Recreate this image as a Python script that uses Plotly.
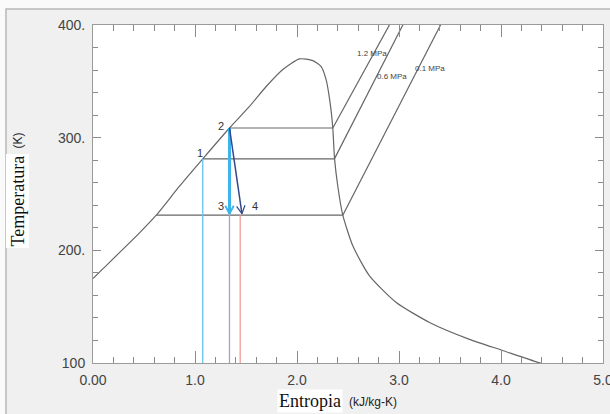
import math
import plotly.graph_objects as go

# ---------------- data ----------------
dome_s = [0.0, 0.096, 0.456, 0.62, 0.848, 1.076, 1.338, 1.534, 1.698, 1.861, 2.025,
          2.155, 2.237, 2.286, 2.325, 2.351, 2.368, 2.40, 2.449, 2.547, 2.711, 2.973,
          3.299, 3.691, 4.002, 4.36, 4.45]
dome_T = [175.0, 183.5, 215.5, 231.2, 256.9, 281.2, 308.6, 327.7, 345.4, 360.5, 369.9,
          368.4, 363.1, 351.3, 330.7, 308.6, 281.4, 256.9, 231.2, 204.0, 177.3, 153.7,
          136.0, 121.0, 111.5, 100.6, 98.5]

iso_12_s = [2.351, 2.907, 2.93]
iso_12_T = [308.6, 400.0, 404.0]
iso_06_s = [2.368, 3.037, 3.06]
iso_06_T = [281.4, 400.0, 404.0]
iso_01_s = [2.449, 3.404, 3.43]
iso_01_T = [231.2, 400.0, 404.0]
iso_labels = ["1.2 MPa", "0.6 MPa", "0.1 MPa"]
iso_label_s = [2.732, 2.928, 3.304]
iso_label_T = [374.9, 354.7, 361.6]

# horizontal (constant temperature) lines: [s_start, s_end], T
hl_high_s = [1.338, 2.351]; T_high = 308.6
hl_mid_s = [1.076, 2.368];  T_mid = 281.2
hl_low_s = [0.62, 2.449];   T_low = 231.2

# cycle states
pt_names = ["1", "2", "3", "4"]
pt_s = [1.076, 1.338, 1.338, 1.46]
pt_T = [281.2, 308.6, 232.5, 232.5]
pt_label_s = [1.05, 1.25, 1.25, 1.585]
pt_label_T = [286.5, 310.8, 239.2, 239.2]

# vertical drop lines: s, top T
vl_s = [1.076, 1.338, 1.443]
vl_top = [281.2, 231.2, 231.2]
vl_colors = ["#62c6ee", "#a99fcc", "#f29a9a"]

x_tickvals = [0, 1, 2, 3, 4, 5]
x_ticktext = ["0.00", "1.0", "2.0", "3.0", "4.0", "5.0"]
y_tickvals = [100, 200, 300, 400]
y_ticktext = ["100", "200.", "300.", "400."]

# ---------------- figure ----------------
W, H = 610, 414
ML, MR, MT, MB = 93, 7, 25, 51
PW, PH = W - ML - MR, H - MT - MB
XR, YR = (0, 5), (100, 400)
kx = PW / (XR[1] - XR[0])
ky = PH / (YR[1] - YR[0])

LINE = "#666666"
fig = go.Figure()

def line(xs, ys, color=LINE, width=1.2, shape="linear", smooth=None):
    d = dict(color=color, width=width, shape=shape)
    if smooth is not None:
        d["smoothing"] = smooth
    fig.add_trace(go.Scatter(x=xs, y=ys, mode="lines", line=d,
                             hoverinfo="skip", showlegend=False, cliponaxis=True))

# dome
line(dome_s, dome_T, shape="spline", smooth=0.6)
# isobars
line(iso_12_s, iso_12_T)
line(iso_06_s, iso_06_T)
line(iso_01_s, iso_01_T)
# horizontal lines
line(hl_high_s, [T_high, T_high])
line(hl_mid_s, [T_mid, T_mid])
line(hl_low_s, [T_low, T_low])
# vertical lines
for s, top, c in zip(vl_s, vl_top, vl_colors):
    line([s, s], [top, YR[0]], color=c, width=1.3)

# arrows with open V heads
def arrow(s0, t0, s1, t1, color, width, L=9, ang=28):
    line([s0, s1], [t0, t1], color=color, width=width)
    dx, dy = (s1 - s0) * kx, (t1 - t0) * ky
    n = math.hypot(dx, dy)
    ux, uy = dx / n, dy / n
    xs, ys = [], []
    for sgn in (1, -1):
        a = math.radians(ang) * sgn
        rx = ux * math.cos(a) - uy * math.sin(a)
        ry = ux * math.sin(a) + uy * math.cos(a)
        xs.append(s1 - L * rx / kx)
        ys.append(t1 - L * ry / ky)
    line([xs[0], s1, xs[1]], [ys[0], t1, ys[1]], color=color, width=max(1.2, width * 0.6))

arrow(pt_s[1], pt_T[1], pt_s[2], pt_T[2], "#3db4ec", 3)
arrow(pt_s[1], pt_T[1], pt_s[3], pt_T[3], "#34488c", 1.5)

annotations = []
for name, s, t in zip(pt_names, pt_label_s, pt_label_T):
    annotations.append(dict(x=s, y=t, text=name, showarrow=False, xref="x", yref="y",
                            xanchor="center", yanchor="middle",
                            font=dict(family="Arial", size=11, color="#333333")))
for name, s, t in zip(iso_labels, iso_label_s, iso_label_T):
    annotations.append(dict(x=s, y=t, text=name, showarrow=False, xref="x", yref="y",
                            xanchor="center", yanchor="middle",
                            font=dict(family="Arial", size=8, color="#444444")))

def px2paper(px, py):
    return (px - ML) / PW, (H - MB - py) / PH

# axis titles
x, y = px2paper(309.5, 401)
annotations.append(dict(x=x, y=y, xref="paper", yref="paper", text="Entropia", showarrow=False,
                        xanchor="center", yanchor="middle", bgcolor="white", borderpad=1,
                        font=dict(family="Liberation Serif, Times New Roman, serif", size=18, color="#111111")))
x, y = px2paper(373, 402)
annotations.append(dict(x=x, y=y, xref="paper", yref="paper", text="(kJ/kg-K)", showarrow=False,
                        xanchor="center", yanchor="middle",
                        font=dict(family="Arial", size=12, color="#222222")))
x, y = px2paper(17.5, 201)
annotations.append(dict(x=x, y=y, xref="paper", yref="paper", text="Temperatura", showarrow=False,
                        xanchor="center", yanchor="middle",
                        textangle=-90, bgcolor="white", borderpad=1,
                        font=dict(family="Liberation Serif, Times New Roman, serif", size=18, color="#111111")))
x, y = px2paper(17.5, 141)
annotations.append(dict(x=x, y=y, xref="paper", yref="paper", text="(K)", showarrow=False,
                        xanchor="center", yanchor="middle",
                        textangle=-90,
                        font=dict(family="Arial", size=12, color="#222222")))

# background frame
fx0, fy1 = px2paper(6, 9)
fx1, fy0 = px2paper(W + 5, H + 5)
shapes = [
    dict(type="rect", xref="paper", yref="paper", x0=fx0, x1=fx1, y0=fy0, y1=fy1,
         fillcolor="#f0f0f0", line=dict(color="#b8b8b8", width=1.5), layer="below"),
    dict(type="rect", xref="paper", yref="paper", x0=0, x1=1, y0=0, y1=1,
         fillcolor="white", line=dict(width=0), layer="below"),
]

axis_common = dict(showline=True, linecolor="#9a9a9a", linewidth=1, mirror="ticks",
                   ticks="inside", tickcolor="#8a8a8a", showgrid=False, zeroline=False,
                   ticklabeloverflow="allow", automargin=False,
                   tickfont=dict(family="Arial", size=14, color="#444444"))

fig.update_layout(
    width=W, height=H,
    margin=dict(l=ML, r=MR, t=MT, b=MB, pad=0, autoexpand=False),
    paper_bgcolor="#fafafa", plot_bgcolor="white",
    showlegend=False,
    shapes=shapes, annotations=annotations,
    xaxis=dict(range=list(XR), tickvals=x_tickvals, ticktext=x_ticktext, ticklen=12,
               minor=dict(dtick=0.2, tick0=0, ticklen=6, ticks="inside", tickcolor="#8a8a8a"),
               ticklabelstandoff=4, **axis_common),
    yaxis=dict(range=list(YR), tickvals=y_tickvals, ticktext=y_ticktext, ticklen=8,
               minor=dict(dtick=20, tick0=100, ticklen=5, ticks="inside", tickcolor="#8a8a8a"),
               ticklabelstandoff=4, **axis_common),
)

fig.write_html("out.html")
